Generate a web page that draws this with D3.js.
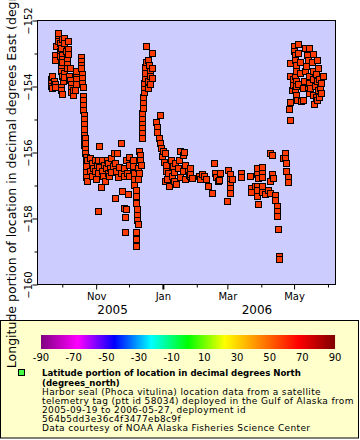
<!DOCTYPE html>
<html><head><meta charset="utf-8">
<script src="https://cdn.jsdelivr.net/npm/d3@7"></script>
<style>body{margin:0;background:#fff}svg{display:block;font-family:"DejaVu Sans",sans-serif}</style>
</head><body><svg id="c" width="360" height="440"></svg>
<script>
// ---- data ----
const obsTime = [
"2005-09-21","2005-09-21","2005-09-21","2005-09-22","2005-09-22","2005-09-23","2005-09-24","2005-09-24","2005-09-24","2005-09-24",
"2005-09-25","2005-09-27","2005-09-27","2005-09-27","2005-09-29","2005-09-29","2005-09-29","2005-09-30","2005-09-30","2005-09-30",
"2005-09-30","2005-09-30","2005-09-30","2005-10-01","2005-10-01","2005-10-01","2005-10-01","2005-10-01","2005-10-01","2005-10-02",
"2005-10-03","2005-10-03","2005-10-03","2005-10-03","2005-10-04","2005-10-05","2005-10-05","2005-10-05","2005-10-06","2005-10-06",
"2005-10-06","2005-10-07","2005-10-08","2005-10-08","2005-10-09","2005-10-09","2005-10-09","2005-10-11","2005-10-11","2005-10-13",
"2005-10-14","2005-10-14","2005-10-14","2005-10-14","2005-10-18","2005-10-18","2005-10-18","2005-10-18","2005-10-19","2005-10-19",
"2005-10-19","2005-10-20","2005-10-20","2005-10-20","2005-10-20","2005-10-20","2005-10-21","2005-10-21","2005-10-21","2005-10-21",
"2005-10-21","2005-10-21","2005-10-21","2005-10-22","2005-10-22","2005-10-22","2005-10-22","2005-10-23","2005-10-23","2005-10-23",
"2005-10-23","2005-10-23","2005-10-24","2005-10-24","2005-10-26","2005-10-26","2005-10-28","2005-10-28","2005-10-29","2005-10-31",
"2005-10-31","2005-11-01","2005-11-02","2005-11-03","2005-11-03","2005-11-03","2005-11-04","2005-11-04","2005-11-05","2005-11-06",
"2005-11-06","2005-11-07","2005-11-08","2005-11-09","2005-11-10","2005-11-11","2005-11-12","2005-11-12","2005-11-13","2005-11-14",
"2005-11-15","2005-11-15","2005-11-16","2005-11-17","2005-11-18","2005-11-18","2005-11-19","2005-11-20","2005-11-21","2005-11-22",
"2005-11-24","2005-11-24","2005-11-25","2005-11-26","2005-11-26","2005-11-26","2005-11-27","2005-11-27","2005-11-28","2005-11-28",
"2005-11-29","2005-11-30","2005-12-01","2005-12-01","2005-12-01","2005-12-05","2005-12-05","2005-12-06","2005-12-06","2005-12-06",
"2005-12-07","2005-12-07","2005-12-07","2005-12-08","2005-12-08","2005-12-08","2005-12-09","2005-12-07","2005-12-07","2005-12-07",
"2005-12-09","2005-12-09","2005-12-10","2005-12-11","2005-12-11","2005-12-12","2005-12-10","2005-12-13","2005-12-13","2005-12-13",
"2005-12-13","2005-12-13","2005-12-13","2005-12-14","2005-12-14","2005-12-14","2005-12-15","2005-12-15","2005-12-15","2005-12-16",
"2005-12-16","2005-12-16","2005-12-17","2005-12-17","2005-12-18","2005-12-18","2005-12-18","2005-12-19","2005-12-20","2005-12-20",
"2005-12-20","2005-12-22","2005-12-22","2005-12-22","2005-12-26","2005-12-27","2005-12-27","2005-12-28","2005-12-29","2005-12-29",
"2005-12-30","2005-12-31","2006-01-01","2006-01-02","2006-01-03","2006-01-03","2006-01-04","2006-01-04","2006-01-05","2006-01-06",
"2006-01-07","2006-01-08","2006-01-09","2006-01-10","2006-01-11","2006-01-11","2006-01-12","2006-01-13","2006-01-15","2006-01-16",
"2006-01-17","2006-01-17","2006-01-19","2006-01-19","2006-01-20","2006-01-21","2006-01-21","2006-01-24","2006-01-25","2006-01-26",
"2006-01-26","2006-01-26","2006-01-28","2006-02-03","2006-02-04","2006-02-06","2006-02-08","2006-02-09","2006-02-11","2006-02-15",
"2006-02-17","2006-02-18","2006-02-19","2006-02-20","2006-02-21","2006-02-22","2006-03-01","2006-03-02","2006-03-03","2006-03-03",
"2006-03-03","2006-03-03","2006-03-03","2006-03-05","2006-03-13","2006-03-13","2006-03-22","2006-03-23","2006-03-23","2006-03-26",
"2006-03-28","2006-03-28","2006-03-28","2006-03-28","2006-03-28","2006-03-29","2006-03-29","2006-04-02","2006-04-02","2006-04-02",
"2006-04-02","2006-04-02","2006-04-04","2006-04-07","2006-04-09","2006-04-09","2006-04-09","2006-04-11","2006-04-11","2006-04-12",
"2006-04-14","2006-04-14","2006-04-15","2006-04-15","2006-04-15","2006-04-16","2006-04-17","2006-04-17","2006-04-21","2006-04-23",
"2006-04-23","2006-04-24","2006-04-24","2006-04-25","2006-04-25","2006-04-26","2006-04-27","2006-04-27","2006-04-27","2006-04-27",
"2006-04-29","2006-04-30","2006-04-30","2006-05-01","2006-05-01","2006-05-02","2006-05-02","2006-05-02","2006-05-02","2006-05-03",
"2006-05-03","2006-05-03","2006-05-03","2006-05-03","2006-05-04","2006-05-05","2006-05-05","2006-05-05","2006-05-06","2006-05-06",
"2006-05-07","2006-05-09","2006-05-09","2006-05-10","2006-05-11","2006-05-11","2006-05-12","2006-05-13","2006-05-14","2006-05-14",
"2006-05-15","2006-05-15","2006-05-15","2006-05-15","2006-05-16","2006-05-17","2006-05-18","2006-05-18","2006-05-18","2006-05-18",
"2006-05-19","2006-05-20","2006-05-21","2006-05-21","2006-05-22","2006-05-22","2006-05-22","2006-05-23","2006-05-23","2006-05-24",
"2006-05-24","2006-05-25","2006-05-26","2006-05-26","2006-05-27"
];
const obsLon = [
-153.76,-153.88,-153.97,-154.06,-153.67,-153.82,-153.91,-154.03,-153.06,-153.21,
-152.76,-152.45,-152.39,-152.61,-152.67,-152.91,-153.09,-152.82,-153.30,-153.42,
-153.52,-154.00,-154.12,-154.24,-153.67,-152.55,-153.06,-153.18,-153.27,-153.82,
-152.52,-152.67,-153.58,-153.70,-152.91,-153.15,-153.33,-153.45,-152.61,-152.85,
-153.00,-153.67,-153.45,-153.79,-153.91,-154.06,-154.18,-154.27,-154.12,-154.12,
-153.58,-153.76,-153.91,-153.52,-153.12,-153.24,-153.36,-153.45,-153.61,-153.73,
-153.88,-154.03,-154.30,-154.42,-154.55,-154.70,-154.85,-154.97,-155.15,-155.48,
-155.61,-155.76,-155.30,-155.55,-155.70,-155.88,-156.03,-156.15,-156.30,-156.42,
-156.58,-156.73,-156.85,-156.24,-156.18,-156.55,-156.33,-156.70,-156.48,-156.24,
-156.55,-156.79,-156.39,-156.24,-156.61,-157.76,-155.79,-156.45,-157.06,-156.24,
-156.55,-156.70,-156.39,-156.85,-156.48,-156.24,-156.61,-156.33,-156.70,-156.48,
-156.18,-156.58,-156.42,-156.00,-156.33,-157.39,-156.55,-156.03,-156.73,-156.45,
-155.70,-156.61,-157.18,-157.67,-156.70,-156.48,-158.42,-157.94,-157.70,-156.24,
-156.61,-157.27,-156.39,-156.15,-156.70,-156.24,-156.42,-156.61,-156.79,-156.97,
-157.15,-157.33,-157.52,-157.70,-157.88,-158.06,-158.18,-158.42,-158.61,-158.82,
-156.79,-156.48,-155.94,-156.09,-156.24,-156.39,-156.61,-155.55,-155.39,-155.24,
-155.09,-154.94,-154.79,-154.64,-154.48,-154.33,-154.18,-154.03,-153.88,-153.73,
-153.58,-153.42,-153.27,-152.76,-153.21,-153.82,-154.06,-153.36,-153.52,-153.67,
-153.91,-153.73,-153.45,-152.97,-155.09,-155.24,-155.39,-155.55,-154.85,-155.70,
-155.85,-156.12,-155.94,-156.30,-156.03,-156.85,-156.39,-156.55,-156.79,-156.61,
-157.00,-156.24,-156.70,-156.42,-156.58,-156.85,-156.33,-156.94,-156.48,-156.24,
-156.73,-155.94,-156.09,-156.55,-155.97,-156.39,-156.79,-156.55,-156.67,-156.70,
-156.48,-156.64,-156.76,-156.70,-156.79,-156.64,-156.70,-156.79,-157.03,-157.24,
-156.33,-156.61,-156.73,-156.85,-156.82,-156.61,-157.48,-156.52,-156.64,-156.79,
-156.94,-157.09,-157.24,-156.79,-156.61,-156.73,-156.70,-157.09,-157.21,-157.03,
-156.48,-156.64,-157.00,-157.15,-157.33,-156.76,-157.55,-156.45,-156.61,-156.73,
-157.00,-157.21,-157.27,-157.15,-157.24,-156.00,-156.85,-156.09,-156.64,-156.76,
-157.30,-157.45,-157.61,-157.76,-157.91,-158.33,-159.15,-159.24,-156.18,-156.00,
-156.18,-156.33,-156.55,-156.73,-156.88,-154.67,-154.48,-155.00,-153.30,-153.67,
-154.12,-153.76,-153.94,-152.76,-152.91,-153.06,-153.21,-153.67,-154.12,-153.36,
-153.52,-153.82,-153.97,-154.27,-154.42,-152.70,-152.97,-153.91,-153.27,-153.58,
-154.45,-154.06,-154.42,-153.82,-153.52,-152.82,-153.39,-153.06,-153.21,-154.06,
-153.67,-152.82,-153.88,-154.21,-154.06,-153.27,-153.52,-153.76,-154.27,-153.00,
-154.52,-153.97,-153.61,-154.33,-153.21,-153.82,-154.42,-153.45,-154.12,-153.76,
-154.33,-154.06,-153.88,-154.21,-153.67
];
const approxLatitude = 57.3;                 // colour variable (degrees_north), nearly constant for this track
const yMajorTicks = [-160, -158, -156, -154, -152];
const yMinorTicks = [-159, -157, -155, -153];
const xMajorTickDates = ["2005-11-01", "2006-01-01", "2006-03-01", "2006-05-01"];
const xMinorTickDates = ["2005-10-01", "2005-12-01", "2006-02-01", "2006-04-01", "2006-06-01"];
const yearLabels = ["2005", "2006"];
const yearLabelAnchors = ["2005-11-16", "2006-03-28"];
const colorStops = [-90, -67.5, -45, -22.5, 0, 22.5, 45, 67.5, 90];
const colorStopColors = ["#800080", "#ff00ff", "#0000ff", "#00ffff", "#00ff00", "#ffff00", "#ff8000", "#ff0000", "#800000"];
const colorbarTicks = [-90, -70, -50, -30, -10, 10, 30, 50, 70, 90];
const yTitle = "Longitude portion of location in decimal degrees East (degrees_east)";
const legendBold = ["Latitude portion of location in decimal degrees North", "(degrees_north)"];
const legendLines = [
  "Harbor seal (Phoca vitulina) location data from a satellite",
  "telemetry tag (ptt id 58034) deployed in the Gulf of Alaska from",
  "2005-09-19 to 2006-05-27, deployment id",
  "564b5dd3e36c4f3477eb8c9f",
  "Data courtesy of NOAA Alaska Fisheries Science Center"
];

// ---- drawing ----
const svg = d3.select("#c");
const pd = d3.utcParse("%Y-%m-%d");
const L = 37.5, R = 335.5, T = 20.5, B = 284.5;
const x = d3.scaleUtc().domain([Date.UTC(2005, 8, 8, 8), Date.UTC(2006, 5, 7, 21)]).range([L, R]);
const y = d3.scaleLinear().domain([-160, -152]).range([B, T]);
const color = d3.scaleLinear().domain(colorStops).range(colorStopColors).interpolate(d3.interpolateRgb);

svg.append("rect").attr("x", 0).attr("y", 0).attr("width", 360).attr("height", 440).attr("fill", "#fff");

// legend box (behind y title)
svg.append("rect").attr("x", 0.5).attr("y", 320.5).attr("width", 358).attr("height", 117.5)
  .attr("fill", "#ffffcc").attr("stroke", "#000");

// plot background
svg.append("rect").attr("x", L).attr("y", T).attr("width", R - L).attr("height", B - T)
  .attr("fill", "#ccccff");

// markers
const pts = obsTime.map((t, i) => ({ t: pd(t), lon: obsLon[i] }));
svg.append("g").selectAll("rect").data(pts).join("rect")
  .attr("x", d => Math.round(x(d.t)) - 3 + 0.5)
  .attr("y", d => Math.round(y(d.lon)) - 3 + 0.5)
  .attr("width", 6).attr("height", 6)
  .attr("fill", color(approxLatitude)).attr("stroke", "#000").attr("stroke-width", 1);

// frame
svg.append("rect").attr("x", L).attr("y", T).attr("width", R - L).attr("height", B - T)
  .attr("fill", "none").attr("stroke", "#000");

// x axis
const xMinor = d3.axisBottom(x).tickValues(xMinorTickDates.map(pd)).tickSize(3).tickFormat("");
const xMajor = d3.axisBottom(x).tickValues(xMajorTickDates.map(pd)).tickSize(5).tickPadding(3)
  .tickFormat(d3.utcFormat("%b"));
[xMinor, xMajor].forEach(ax => {
  const g = svg.append("g").attr("transform", `translate(0,${B})`).call(ax);
  g.select(".domain").remove();
  g.selectAll("line").attr("stroke", "#000");
  g.selectAll("text").attr("font-family", "DejaVu Sans").attr("font-size", 10).attr("fill", "#000");
});
svg.selectAll("g .tick").filter(d => +d === +pd("2006-01-01")).select("line").attr("stroke-width", 2);

svg.append("g").selectAll("text").data(yearLabels).join("text")
  .attr("x", (d, i) => x(pd(yearLabelAnchors[i]))).attr("y", 314)
  .attr("text-anchor", "middle").attr("font-size", 12).text(d => d);

// y axis
const yMinor = d3.axisLeft(y).tickValues(yMinorTicks).tickSize(3).tickFormat("");
const yMajor = d3.axisLeft(y).tickValues(yMajorTicks).tickSize(5).tickFormat(d3.format("d"));
[yMinor, yMajor].forEach(ax => {
  const g = svg.append("g").attr("transform", `translate(${L},0)`).call(ax);
  g.select(".domain").remove();
  g.selectAll("line").attr("stroke", "#000");
  g.selectAll("text").attr("font-family", "DejaVu Sans").attr("font-size", 10).attr("fill", "#000")
    .attr("x", null).attr("dy", null).attr("text-anchor", "middle")
    .attr("transform", "translate(-6,0) rotate(-90)");
});

// colorbar
const cb = d3.scaleLinear().domain([-90, 90]).range([41, 335]);
const cbG = svg.append("g");
d3.range(41, 335).forEach(px => {
  cbG.append("rect").attr("x", px).attr("y", 335).attr("width", 1.05).attr("height", 14)
    .attr("fill", color(cb.invert(px + 0.5)));
});
svg.append("g").selectAll("text").data(colorbarTicks).join("text")
  .attr("x", d => cb(d)).attr("y", 361).attr("text-anchor", "middle")
  .attr("font-size", 10).text(d => d);

// legend marker + text
svg.append("rect").attr("x", 18.5).attr("y", 369.5).attr("width", 6).attr("height", 6)
  .attr("fill", "#44ff44").attr("stroke", "#000");
svg.append("g").selectAll("text").data(legendBold).join("text")
  .attr("x", 42).attr("y", (d, i) => 376 + i * 9.5).attr("font-size", 8.6).attr("font-weight", "bold").text(d => d);
svg.append("g").selectAll("text").data(legendLines).join("text")
  .attr("x", 42).attr("y", (d, i) => 394.5 + i * 9).attr("font-size", 9)
  .attr("letter-spacing", 0.36).text(d => d);

// y title (drawn over legend box)
svg.append("text").attr("transform", `translate(16,${(T + B) / 2}) rotate(-90)`)
  .attr("text-anchor", "middle").attr("font-size", 12.5).text(yTitle);
</script></body></html>
